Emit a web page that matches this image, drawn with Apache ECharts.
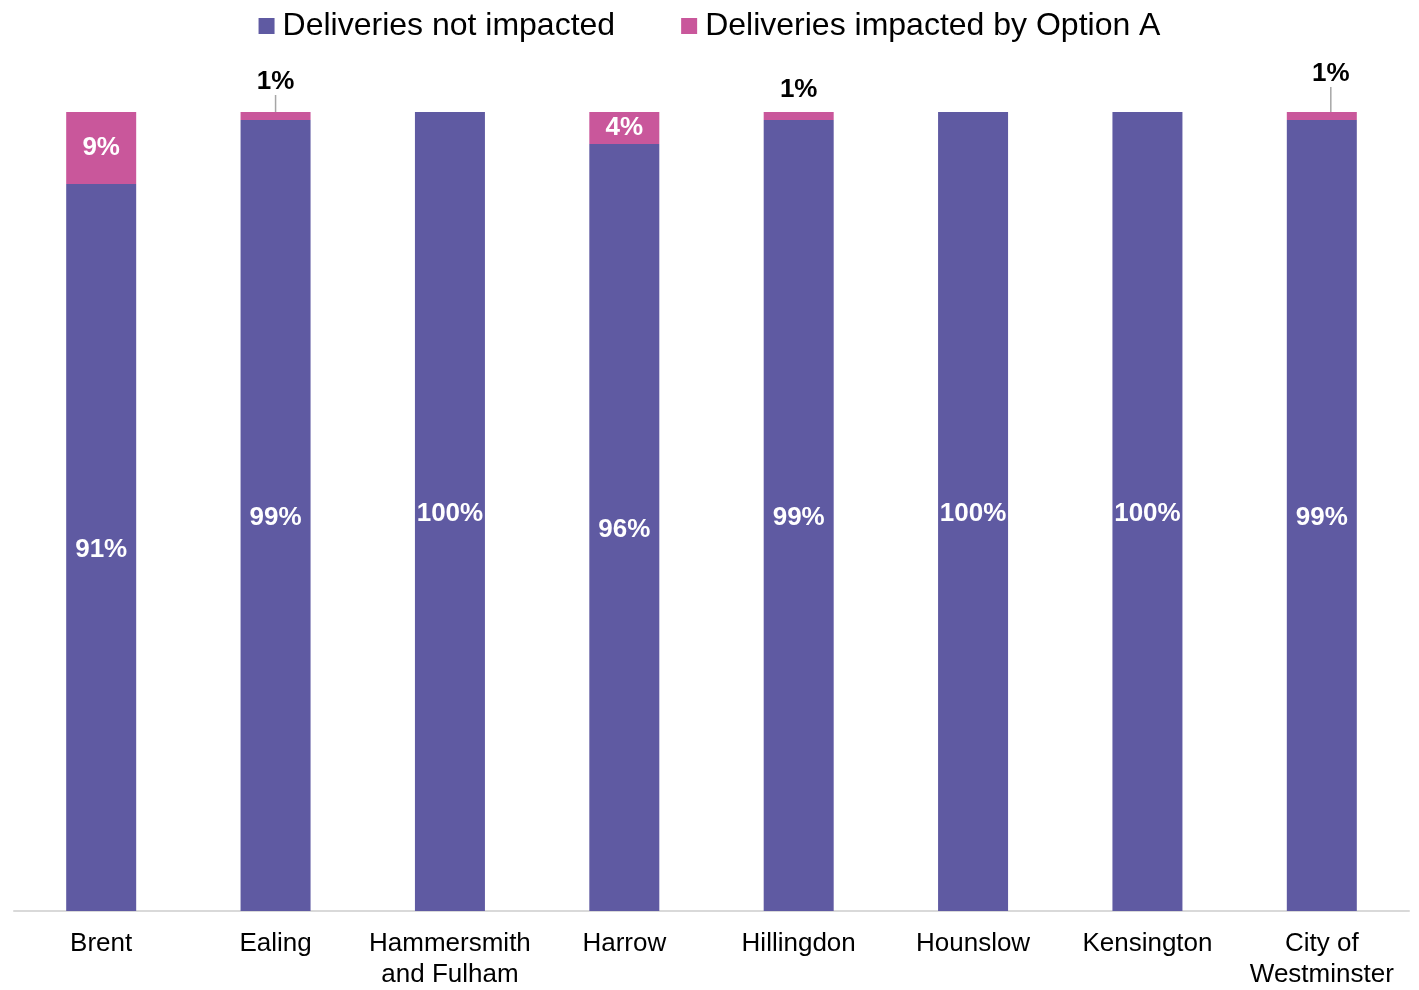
<!DOCTYPE html>
<html>
<head>
<meta charset="utf-8">
<style>
  html, body { margin: 0; padding: 0; background: #fff; }
  #chart { width: 1419px; height: 990px; }
</style>
<script src="https://cdn.jsdelivr.net/npm/echarts@6/dist/echarts.min.js"></script>
</head>
<body>
<div id="chart"></div>
<script>
// Share of deliveries by borough (percent)
const categories = ['Brent', 'Ealing', 'Hammersmith\nand Fulham', 'Harrow', 'Hillingdon', 'Hounslow', 'Kensington', 'City of\nWestminster'];
const notImpacted = [91, 99, 100, 96, 99, 100, 100, 99];
const impactedA = [9, 1, 0, 4, 1, 0, 0, 1];
const seriesNames = ['Deliveries not impacted', 'Deliveries impacted by Option A'];

const FONT = '"Liberation Sans", Arial, sans-serif';
const BLUE = '#5F5AA2';
const PINK = '#C9579B';

// Small slices get their label lifted above the bar, joined by a guide line
const liftedLabel = {
  1: { dx: 0, dy: -12, line: true, lean: 0 },
  4: { dx: 0, dy: -4, line: false, lean: 0 },
  7: { dx: 9, dy: -20, line: true, lean: 8 }
};

const pinkData = impactedA.map((v, i) => {
  const small = v > 0 && v < 3;
  return {
    value: v,
    label: small ? { position: 'top', distance: 5, color: '#000', offset: [0, 0] } : {},
    labelLine: { show: !!(liftedLabel[i] && liftedLabel[i].line) }
  };
});

const chart = echarts.init(document.getElementById('chart'));
chart.setOption({
  animation: false,
  backgroundColor: '#fff',
  textStyle: { fontFamily: FONT },
  legend: {
    data: seriesNames,
    left: 'center',
    top: 5,
    icon: 'rect',
    itemWidth: 16,
    itemHeight: 16,
    itemGap: 66,
    textStyle: { fontSize: 32, color: '#000', fontFamily: FONT, padding: [0, 0, 0, 3] }
  },
  grid: { left: 14, right: 10, top: 112, bottom: 73, containLabel: false },
  xAxis: {
    type: 'category',
    data: categories,
    axisLine: { lineStyle: { color: '#D9D9D9', width: 2 } },
    axisTick: { show: false },
    axisLabel: { fontSize: 26, color: '#000', fontFamily: FONT, lineHeight: 31, margin: 17, interval: 0 }
  },
  yAxis: {
    type: 'value',
    min: 0,
    max: 100,
    show: false,
    splitLine: { show: false }
  },
  series: [
    {
      name: seriesNames[0],
      type: 'bar',
      stack: 'total',
      barWidth: 70,
      data: notImpacted,
      itemStyle: { color: BLUE },
      label: {
        show: true,
        position: 'inside',
        offset: [0, 2],
        color: '#fff',
        fontWeight: 'bold',
        fontSize: 26,
        fontFamily: FONT,
        formatter: p => p.value + '%'
      }
    },
    {
      name: seriesNames[1],
      type: 'bar',
      stack: 'total',
      barWidth: 70,
      data: pinkData,
      itemStyle: { color: PINK },
      label: {
        show: true,
        position: 'inside',
        offset: [0, 2],
        color: '#fff',
        fontWeight: 'bold',
        fontSize: 26,
        fontFamily: FONT,
        formatter: p => (p.value > 0 ? p.value + '%' : '')
      },
      labelLine: { show: false, lineStyle: { color: '#A6A6A6', width: 1.5 } },
      labelLayout: function (params) {
        const m = liftedLabel[params.dataIndex];
        if (!m) return {};
        const out = { dx: m.dx, dy: m.dy };
        if (m.line) {
          const lr = params.labelRect;
          const r = params.rect;
          const cx = r.x + r.width / 2;
          const fromY = lr.y + lr.height + m.dy - 1;
          out.labelLinePoints = [
            [cx + m.lean, fromY],
            [cx + m.lean / 2, (fromY + r.y) / 2],
            [cx, r.y]
          ];
        }
        return out;
      }
    }
  ]
});
</script>
</body>
</html>
